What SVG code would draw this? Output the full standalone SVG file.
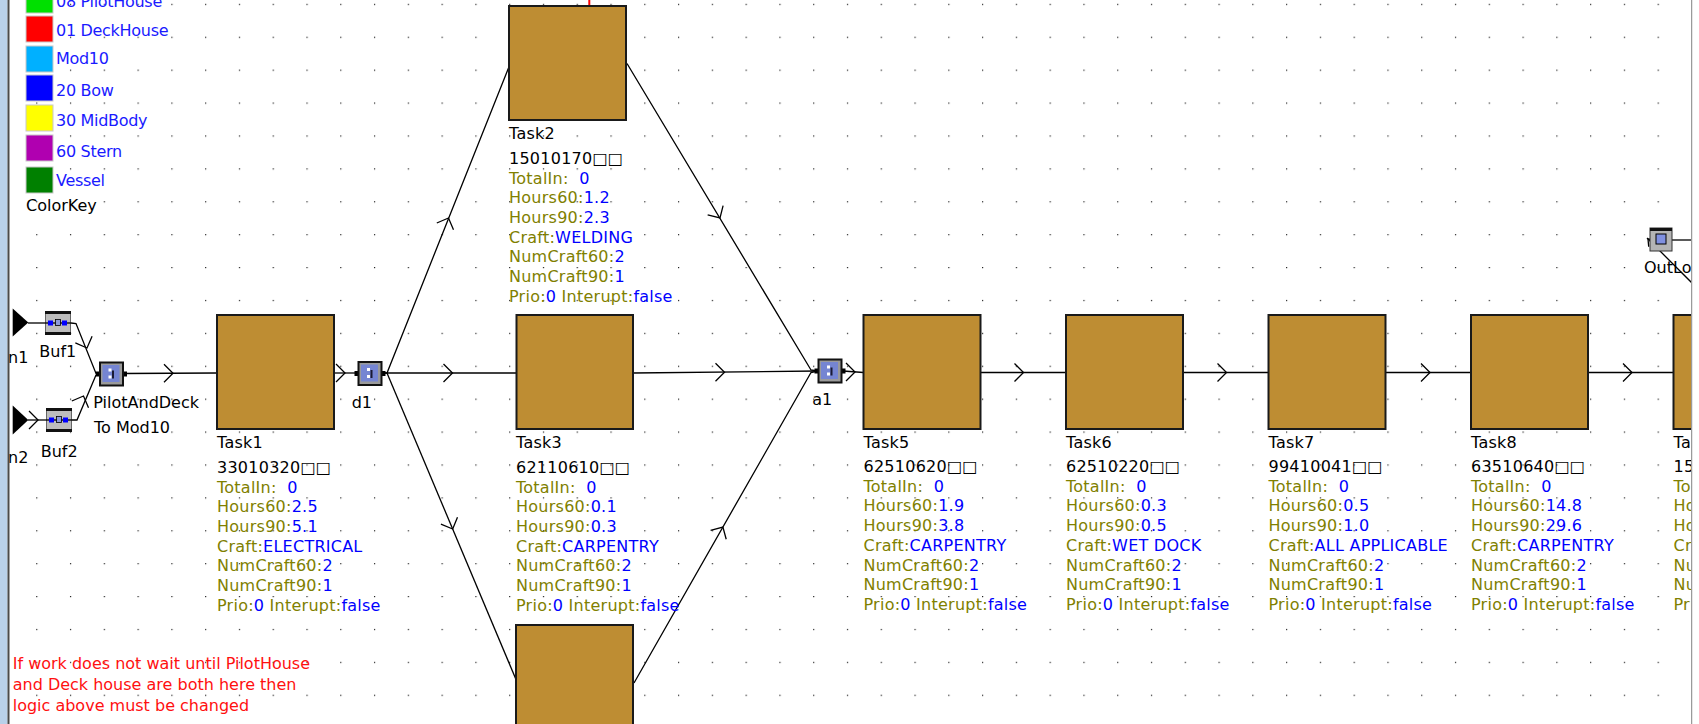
<svg xmlns="http://www.w3.org/2000/svg" xmlns:xlink="http://www.w3.org/1999/xlink" width="1699" height="724" viewBox="0 0 1699 724">
<style>
text{font-family:"DejaVu Sans","Liberation Sans",sans-serif;font-size:16px;white-space:pre}
.t{letter-spacing:0.25px}
.k{fill:#000}
.o{fill:#808000}
.b{fill:#0000FF}
.lg{fill:#1a1aff;letter-spacing:-0.3px}
.box{fill:#BE8D33;stroke:#1a1a1a;stroke-width:2}
.ln{stroke:#000;stroke-width:1.3;fill:none}
.ch{stroke:#000;stroke-width:1.3;fill:none}
.note{fill:#FF1010}
.sw{stroke:#c8c8c8;stroke-width:1}
</style>
<defs>
<pattern id="grid" patternUnits="userSpaceOnUse" x="2.4" y="3.8" width="33.78" height="32.9"><rect width="1.2" height="1.2" fill="#222"/></pattern>
<path id="chev" d="M-9,-9 L0,0 L-9,9" class="ch"/>
<path id="chevs" d="M-6,-5 L0,0 L-6,5" class="ch"/>
<g id="junc">
<rect x="-3" y="10" width="4" height="5" fill="#000"/>
<rect x="24" y="10" width="4" height="5" fill="#000"/>
<rect x="0" y="0" width="25" height="25" fill="#111"/>
<rect x="2" y="2" width="21" height="21" fill="#9a9a9a"/>
<rect x="3.5" y="3.5" width="17" height="17" fill="#7585D2"/>
<rect x="9.5" y="7" width="3" height="3" fill="#fff"/>
<rect x="9.5" y="14" width="3" height="3" fill="#fff"/>
<rect x="13" y="9" width="2" height="8" fill="#1a1a33"/>
</g>
<g id="buf">
<rect x="0.5" y="0.5" width="25" height="23" fill="#BDBDBD" stroke="#666"/>
<rect x="0" y="0" width="26" height="3" fill="#111"/>
<rect x="0" y="21" width="26" height="3" fill="#111"/>
<line x1="0" y1="12" x2="26" y2="12" stroke="#000" stroke-width="1.3"/>
<rect x="3" y="9.5" width="5" height="5" fill="#0000FF"/>
<rect x="17" y="9.5" width="5" height="5" fill="#0000FF"/>
<rect x="10.5" y="8.5" width="5" height="6" fill="#8C9ADA" stroke="#000" stroke-width="0.8"/>
</g>
<clipPath id="cv"><rect x="9" y="0" width="1682" height="724"/></clipPath>
</defs>

<rect x="0" y="0" width="1699" height="724" fill="#fff"/>
<g clip-path="url(#cv)">
<rect x="0" y="0" width="1699" height="724" fill="url(#grid)"/>

<g id="legend">
<rect x="26" y="-13" width="27" height="26" fill="#00E000" class="sw"/>
<rect x="26" y="16" width="27" height="26" fill="#FF0000" class="sw"/>
<rect x="26" y="46" width="27" height="26" fill="#00B0FF" class="sw"/>
<rect x="26" y="75" width="27" height="26" fill="#0000FF" class="sw"/>
<rect x="26" y="105" width="27" height="26" fill="#FFFF00" class="sw"/>
<rect x="26" y="135" width="27" height="26" fill="#B000B0" class="sw"/>
<rect x="26" y="167" width="27" height="26" fill="#008000" class="sw"/>
<text x="56" y="6.5" class="lg">08 PilotHouse</text>
<text x="56" y="36" class="lg">01 DeckHouse</text>
<text x="56" y="64.3" class="lg">Mod10</text>
<text x="56" y="95.7" class="lg">20 Bow</text>
<text x="56" y="126" class="lg">30 MidBody</text>
<text x="56" y="157.3" class="lg">60 Stern</text>
<text x="56" y="185.7" class="lg">Vessel</text>
<text x="26" y="210.7" class="k">ColorKey</text>
</g>

<g id="connectors">
<line x1="28" y1="323" x2="45" y2="323" class="ln"/>
<line x1="28" y1="420" x2="46" y2="420" class="ln"/>
<polyline points="71,323 76,323.5 96,373.5 99,374" class="ln"/>
<polyline points="72,420 77,420 96,375 99,374" class="ln"/>
<line x1="124" y1="373.5" x2="217" y2="373" class="ln"/>
<line x1="334" y1="373" x2="357.5" y2="373" class="ln"/>
<polyline points="383,373 387,373 508.5,68" class="ln"/>
<line x1="383" y1="373" x2="516.5" y2="373" class="ln"/>
<line x1="387" y1="373" x2="516" y2="679.5" class="ln"/>
<polyline points="627,63.5 811,370 817.5,371" class="ln"/>
<line x1="633" y1="373" x2="817.5" y2="371" class="ln"/>
<polyline points="634,683 811,372.5 817.5,371" class="ln"/>
<line x1="843" y1="371" x2="863.5" y2="372.5" class="ln"/>
<line x1="980.5" y1="372.5" x2="1066" y2="372.5" class="ln"/>
<line x1="1183" y1="372.5" x2="1268.5" y2="372.5" class="ln"/>
<line x1="1385.5" y1="372.5" x2="1471" y2="372.5" class="ln"/>
<line x1="1588" y1="372.5" x2="1673.5" y2="372.5" class="ln"/>
<line x1="1672" y1="240" x2="1692" y2="240" class="ln"/>
<line x1="1647" y1="238" x2="1692" y2="283" class="ln"/>
<use xlink:href="#chev" href="#chev" transform="translate(38,420)"/>
<use xlink:href="#chev" href="#chev" transform="translate(87,348) rotate(68.6)"/>
<use xlink:href="#chev" href="#chev" transform="translate(83.5,396) rotate(-68.2)"/>
<use xlink:href="#chev" href="#chev" transform="translate(173,373.3)"/>
<use xlink:href="#chev" href="#chev" transform="translate(345,373)"/>
<use xlink:href="#chev" href="#chev" transform="translate(448.5,218) rotate(-68.1)"/>
<use xlink:href="#chev" href="#chev" transform="translate(452.5,373)"/>
<use xlink:href="#chev" href="#chev" transform="translate(452.7,529) rotate(67.1)"/>
<use xlink:href="#chev" href="#chev" transform="translate(720,218) rotate(59.1)"/>
<use xlink:href="#chev" href="#chev" transform="translate(724.5,372.2)"/>
<use xlink:href="#chev" href="#chev" transform="translate(722.9,527) rotate(-60.1)"/>
<use xlink:href="#chev" href="#chev" transform="translate(855,372)"/>
<use xlink:href="#chev" href="#chev" transform="translate(1023.5,372.5)"/>
<use xlink:href="#chev" href="#chev" transform="translate(1226.5,372.5)"/>
<use xlink:href="#chev" href="#chev" transform="translate(1430,372.5)"/>
<use xlink:href="#chev" href="#chev" transform="translate(1632,372.5)"/>
<use xlink:href="#chevs" href="#chevs" transform="translate(1648,239) rotate(-135)"/>
<line x1="589.3" y1="0" x2="589.3" y2="6" stroke="#FF0000" stroke-width="2"/>
</g>

<g id="n1">
<polygon points="12.7,308.5 12.7,336.5 28.3,322.5" fill="#000"/>
<text x="8" y="363.3" class="k">n1</text>
</g>
<g id="n2">
<polygon points="12.7,405.5 12.7,434.5 28.3,420" fill="#000"/>
<text x="8" y="463.3" class="k">n2</text>
</g>
<g id="buf1">
<use xlink:href="#buf" href="#buf" transform="translate(45,311)"/>
<text x="39.3" y="356.7" class="k">Buf1</text>
</g>
<g id="buf2">
<use xlink:href="#buf" href="#buf" transform="translate(46,408)"/>
<text x="40.7" y="456.7" class="k">Buf2</text>
</g>
<g id="pilotanddeck">
<use xlink:href="#junc" href="#junc" transform="translate(99,361.5)"/>
<text x="93.3" y="408.3" class="k">PilotAndDeck</text>
<text x="94" y="432.7" class="k">To Mod10</text>
</g>
<g id="d1">
<use xlink:href="#junc" href="#junc" transform="translate(357.5,361)"/>
<text x="351.7" y="408.3" class="k">d1</text>
</g>
<g id="a1">
<use xlink:href="#junc" href="#junc" transform="translate(817.5,358.5)"/>
<text x="812.3" y="405" class="k">a1</text>
</g>
<g id="outlo">
<rect x="1650" y="228" width="22" height="23" fill="#B4B4B4" stroke="#333"/>
<rect x="1650" y="228" width="22" height="3" fill="#111"/>
<rect x="1656" y="234" width="10" height="10" fill="#8090E0" stroke="#000"/>
<text x="1644" y="273" class="k">OutLo</text>
</g>

<g id="task1">
<rect x="217" y="315" width="117" height="114" class="box"/>
<text x="217" y="448.3" class="t k">Task1</text>
<text x="217" y="472.5" class="t k">33010320□□</text>
<text x="217" y="492.5" class="t o">TotalIn:  <tspan class="b">0</tspan></text>
<text x="217" y="512" class="t o">Hours60:<tspan class="b">2.5</tspan></text>
<text x="217" y="531.7" class="t o">Hours90:<tspan class="b">5.1</tspan></text>
<text x="217" y="551.5" class="t o">Craft:<tspan class="b">ELECTRICAL</tspan></text>
<text x="217" y="571.3" class="t o">NumCraft60:<tspan class="b">2</tspan></text>
<text x="217" y="591" class="t o">NumCraft90:<tspan class="b">1</tspan></text>
<text x="217" y="610.8" class="t o">Prio:<tspan class="b">0</tspan> Interupt:<tspan class="b">false</tspan></text>
</g>

<g id="task2">
<rect x="509" y="6" width="117" height="114" class="box"/>
<text x="509" y="139.3" class="t k">Task2</text>
<text x="509" y="163.5" class="t k">15010170□□</text>
<text x="509" y="183.5" class="t o">TotalIn:  <tspan class="b">0</tspan></text>
<text x="509" y="203" class="t o">Hours60:<tspan class="b">1.2</tspan></text>
<text x="509" y="222.7" class="t o">Hours90:<tspan class="b">2.3</tspan></text>
<text x="509" y="242.5" class="t o">Craft:<tspan class="b">WELDING</tspan></text>
<text x="509" y="262.3" class="t o">NumCraft60:<tspan class="b">2</tspan></text>
<text x="509" y="282" class="t o">NumCraft90:<tspan class="b">1</tspan></text>
<text x="509" y="301.8" class="t o">Prio:<tspan class="b">0</tspan> Interupt:<tspan class="b">false</tspan></text>
</g>

<g id="task3">
<rect x="516.5" y="315" width="116.5" height="114" class="box"/>
<text x="516" y="448.3" class="t k">Task3</text>
<text x="516" y="472.5" class="t k">62110610□□</text>
<text x="516" y="492.5" class="t o">TotalIn:  <tspan class="b">0</tspan></text>
<text x="516" y="512" class="t o">Hours60:<tspan class="b">0.1</tspan></text>
<text x="516" y="531.7" class="t o">Hours90:<tspan class="b">0.3</tspan></text>
<text x="516" y="551.5" class="t o">Craft:<tspan class="b">CARPENTRY</tspan></text>
<text x="516" y="571.3" class="t o">NumCraft60:<tspan class="b">2</tspan></text>
<text x="516" y="591" class="t o">NumCraft90:<tspan class="b">1</tspan></text>
<text x="516" y="610.8" class="t o">Prio:<tspan class="b">0</tspan> Interupt:<tspan class="b">false</tspan></text>
</g>

<g id="task4">
<rect x="516" y="625" width="117" height="130" class="box"/>
</g>

<g id="task5">
<rect x="863.5" y="315" width="117" height="114" class="box"/>
<text x="863.5" y="447.5" class="t k">Task5</text>
<text x="863.5" y="471.5" class="t k">62510620□□</text>
<text x="863.5" y="491.5" class="t o">TotalIn:  <tspan class="b">0</tspan></text>
<text x="863.5" y="511.2" class="t o">Hours60:<tspan class="b">1.9</tspan></text>
<text x="863.5" y="531" class="t o">Hours90:<tspan class="b">3.8</tspan></text>
<text x="863.5" y="550.8" class="t o">Craft:<tspan class="b">CARPENTRY</tspan></text>
<text x="863.5" y="570.6" class="t o">NumCraft60:<tspan class="b">2</tspan></text>
<text x="863.5" y="590.4" class="t o">NumCraft90:<tspan class="b">1</tspan></text>
<text x="863.5" y="610.2" class="t o">Prio:<tspan class="b">0</tspan> Interupt:<tspan class="b">false</tspan></text>
</g>

<g id="task6">
<rect x="1066" y="315" width="117" height="114" class="box"/>
<text x="1066" y="447.5" class="t k">Task6</text>
<text x="1066" y="471.5" class="t k">62510220□□</text>
<text x="1066" y="491.5" class="t o">TotalIn:  <tspan class="b">0</tspan></text>
<text x="1066" y="511.2" class="t o">Hours60:<tspan class="b">0.3</tspan></text>
<text x="1066" y="531" class="t o">Hours90:<tspan class="b">0.5</tspan></text>
<text x="1066" y="550.8" class="t o">Craft:<tspan class="b">WET DOCK</tspan></text>
<text x="1066" y="570.6" class="t o">NumCraft60:<tspan class="b">2</tspan></text>
<text x="1066" y="590.4" class="t o">NumCraft90:<tspan class="b">1</tspan></text>
<text x="1066" y="610.2" class="t o">Prio:<tspan class="b">0</tspan> Interupt:<tspan class="b">false</tspan></text>
</g>

<g id="task7">
<rect x="1268.5" y="315" width="117" height="114" class="box"/>
<text x="1268.5" y="447.5" class="t k">Task7</text>
<text x="1268.5" y="471.5" class="t k">99410041□□</text>
<text x="1268.5" y="491.5" class="t o">TotalIn:  <tspan class="b">0</tspan></text>
<text x="1268.5" y="511.2" class="t o">Hours60:<tspan class="b">0.5</tspan></text>
<text x="1268.5" y="531" class="t o">Hours90:<tspan class="b">1.0</tspan></text>
<text x="1268.5" y="550.8" class="t o">Craft:<tspan class="b">ALL APPLICABLE</tspan></text>
<text x="1268.5" y="570.6" class="t o">NumCraft60:<tspan class="b">2</tspan></text>
<text x="1268.5" y="590.4" class="t o">NumCraft90:<tspan class="b">1</tspan></text>
<text x="1268.5" y="610.2" class="t o">Prio:<tspan class="b">0</tspan> Interupt:<tspan class="b">false</tspan></text>
</g>

<g id="task8">
<rect x="1471" y="315" width="117" height="114" class="box"/>
<text x="1471" y="447.5" class="t k">Task8</text>
<text x="1471" y="471.5" class="t k">63510640□□</text>
<text x="1471" y="491.5" class="t o">TotalIn:  <tspan class="b">0</tspan></text>
<text x="1471" y="511.2" class="t o">Hours60:<tspan class="b">14.8</tspan></text>
<text x="1471" y="531" class="t o">Hours90:<tspan class="b">29.6</tspan></text>
<text x="1471" y="550.8" class="t o">Craft:<tspan class="b">CARPENTRY</tspan></text>
<text x="1471" y="570.6" class="t o">NumCraft60:<tspan class="b">2</tspan></text>
<text x="1471" y="590.4" class="t o">NumCraft90:<tspan class="b">1</tspan></text>
<text x="1471" y="610.2" class="t o">Prio:<tspan class="b">0</tspan> Interupt:<tspan class="b">false</tspan></text>
</g>

<g id="task9">
<rect x="1673.5" y="315" width="40" height="114" class="box"/>
<text x="1673.5" y="447.5" class="t k">Ta</text>
<text x="1673.5" y="471.5" class="t k">15</text>
<text x="1673.5" y="491.5" class="t o">To</text>
<text x="1673.5" y="511.2" class="t o">Ho</text>
<text x="1673.5" y="531" class="t o">Ho</text>
<text x="1673.5" y="550.8" class="t o">Cr</text>
<text x="1673.5" y="570.6" class="t o">Nu</text>
<text x="1673.5" y="590.4" class="t o">Nu</text>
<text x="1673.5" y="610.2" class="t o">Pri</text>
</g>

<g id="note">
<text x="12.7" y="669.3" class="note">If work does not wait until PilotHouse</text>
<text x="12.7" y="690" class="note">and Deck house are both here then</text>
<text x="12.7" y="710.7" class="note">logic above must be changed</text>
</g>
</g>

<rect x="0" y="0" width="7.5" height="724" fill="#B9D1EA"/>
<rect x="7.5" y="0" width="2" height="724" fill="#4a4a4a"/>
<rect x="1691" y="0" width="1.5" height="724" fill="#9a9a9a"/>
<rect x="1692.5" y="0" width="6.5" height="724" fill="#fff"/>
</svg>
